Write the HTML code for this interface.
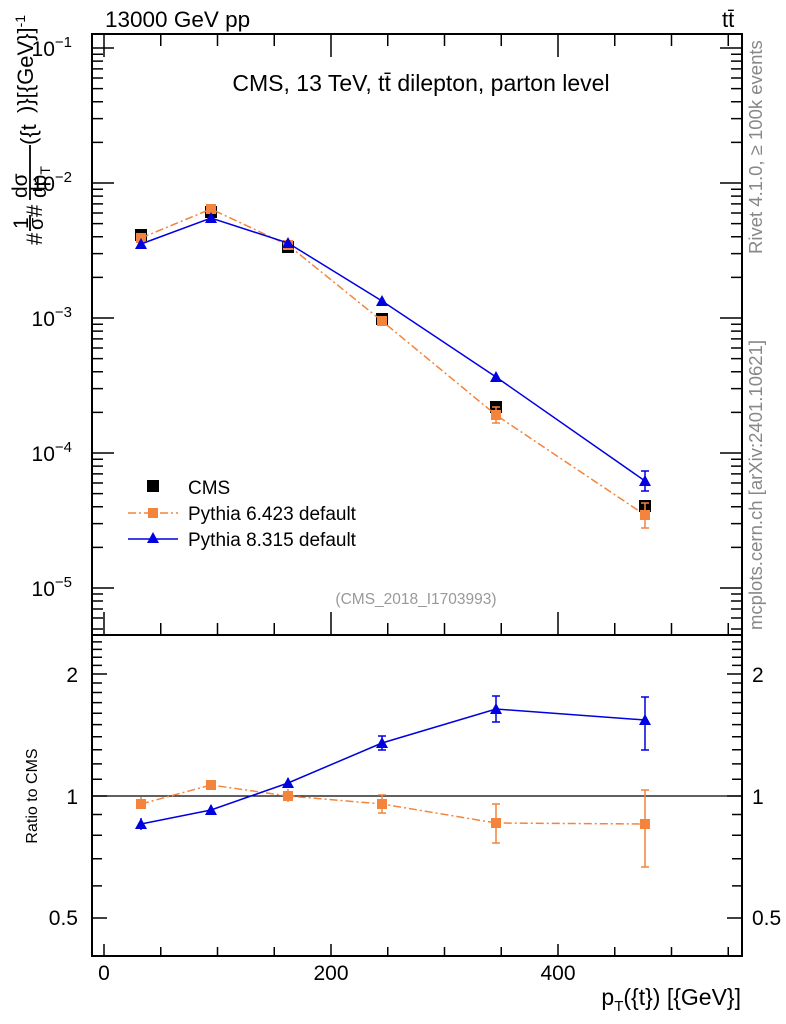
<!DOCTYPE html>
<html><head><meta charset="utf-8"><style>
html,body{margin:0;padding:0;background:#fff;}
svg{display:block;font-family:"Liberation Sans",Arial,sans-serif;}
</style></head><body>
<svg width="786" height="1024" viewBox="0 0 786 1024" xmlns="http://www.w3.org/2000/svg">
<rect width="786" height="1024" fill="#fff"/>
<g fill="none" stroke="#000" stroke-width="2">
<rect x="92" y="34" width="650" height="601"/>
<rect x="92" y="635" width="650" height="321"/>
</g>
<g stroke="#000" stroke-width="1.5">
<path d="M92 48h22M92 183h22M92 318h22M92 453h22M92 588h22 M742 48h-22M742 183h-22M742 318h-22M742 453h-22M742 588h-22"/>
<path d="M92 142.4h11M92 118.6h11M92 101.7h11M92 88.6h11M92 78h11M92 68.9h11M92 61.1h11M92 54.2h11
M92 277.4h11M92 253.6h11M92 236.7h11M92 223.6h11M92 213h11M92 203.9h11M92 196.1h11M92 189.2h11
M92 412.4h11M92 388.6h11M92 371.7h11M92 358.6h11M92 348h11M92 338.9h11M92 331.1h11M92 324.2h11
M92 547.4h11M92 523.6h11M92 506.7h11M92 493.6h11M92 483h11M92 473.9h11M92 466.1h11M92 459.2h11
M92 629h11M92 618h11M92 609h11M92 601h11M92 594h11
M742 142.4h-11M742 118.6h-11M742 101.7h-11M742 88.6h-11M742 78h-11M742 68.9h-11M742 61.1h-11M742 54.2h-11
M742 277.4h-11M742 253.6h-11M742 236.7h-11M742 223.6h-11M742 213h-11M742 203.9h-11M742 196.1h-11M742 189.2h-11
M742 412.4h-11M742 388.6h-11M742 371.7h-11M742 358.6h-11M742 348h-11M742 338.9h-11M742 331.1h-11M742 324.2h-11
M742 547.4h-11M742 523.6h-11M742 506.7h-11M742 493.6h-11M742 483h-11M742 473.9h-11M742 466.1h-11M742 459.2h-11
M742 629h-11M742 618h-11M742 609h-11M742 601h-11M742 594h-11"/>
<path d="M104 34v23M331 34v23M558 34v23 M104 635v-23M331 635v-23M558 635v-23
M160.75 34v12M217.5 34v12M274.25 34v12M387.75 34v12M444.5 34v12M501.25 34v12M614.75 34v12M671.5 34v12M728.25 34v12
M160.75 635v-12M217.5 635v-12M274.25 635v-12M387.75 635v-12M444.5 635v-12M501.25 635v-12M614.75 635v-12M671.5 635v-12M728.25 635v-12"/>
<path d="M92 674h15M92 796h15M92 918h15 M742 674h-15M742 796h-15M742 918h-15"/>
<path d="M92 665.4h10M92 657.2h10M92 649.4h10M92 641.9h10M92 779.2h10M92 763.9h10M92 749.8h10M92 736.8h10M92 724.6h10M92 713.3h10M92 702.6h10M92 692.5h10M92 683h10M92 814.5h10M92 835.3h10M92 858.8h10M92 885.9h10
M742 665.4h-10M742 657.2h-10M742 649.4h-10M742 641.9h-10M742 779.2h-10M742 763.9h-10M742 749.8h-10M742 736.8h-10M742 724.6h-10M742 713.3h-10M742 702.6h-10M742 692.5h-10M742 683h-10M742 814.5h-10M742 835.3h-10M742 858.8h-10M742 885.9h-10"/>
<path d="M104 956v-12M331 956v-12M558 956v-12 M160.75 956v-9M217.5 956v-9M274.25 956v-9M387.75 956v-9M444.5 956v-9M501.25 956v-9M614.75 956v-9M671.5 956v-9M728.25 956v-9"/>
</g>
<line x1="92" y1="796" x2="742" y2="796" stroke="#000" stroke-width="1.2"/>
<text x="105" y="27" font-size="22.5">13000 GeV pp</text>
<text x="722" y="27" font-size="22">tt̄</text>
<text x="421" y="91" font-size="23" text-anchor="middle">CMS, 13 TeV, tt̄ dilepton, parton level</text>
<g font-size="21" text-anchor="end">
<text x="72" y="56">10<tspan font-size="15" dy="-9">−1</tspan></text>
<text x="72" y="191">10<tspan font-size="15" dy="-9">−2</tspan></text>
<text x="72" y="326">10<tspan font-size="15" dy="-9">−3</tspan></text>
<text x="72" y="461">10<tspan font-size="15" dy="-9">−4</tspan></text>
<text x="72" y="596">10<tspan font-size="15" dy="-9">−5</tspan></text>
<text x="78" y="682">2</text>
<text x="78" y="804">1</text>
<text x="78" y="925">0.5</text>
</g>
<g font-size="21">
<text x="752" y="682">2</text>
<text x="752" y="804">1</text>
<text x="752" y="925">0.5</text>
<text x="104" y="980" text-anchor="middle">0</text>
<text x="331" y="980" text-anchor="middle">200</text>
<text x="558" y="980" text-anchor="middle">400</text>
</g>
<text x="741" y="1005" font-size="23" text-anchor="end">p<tspan font-size="15" dy="6">T</tspan><tspan dy="-6">({t}) [{GeV}]</tspan></text>
<text x="416" y="604" font-size="15.5" fill="#999" text-anchor="middle">(CMS_2018_I1703993)</text>
<text transform="translate(762,254) rotate(-90)" font-size="18.5" fill="#888">Rivet 4.1.0, ≥ 100k events</text>
<text transform="translate(762,630) rotate(-90)" font-size="18.5" fill="#888">mcplots.cern.ch [arXiv:2401.10621]</text>
<text transform="translate(37,796) rotate(-90)" font-size="16" text-anchor="middle">Ratio to CMS</text>
<g transform="translate(42,245) rotate(-90)" font-size="22">
<text x="0" y="0">#</text>
<text x="16" y="-14" font-size="21">1</text>
<line x1="14" y1="-12" x2="30" y2="-12" stroke="#000" stroke-width="1.8"/>
<text x="15" y="1" font-size="20">σ</text>
<text x="28" y="0">#</text>
<text x="47" y="-15" font-size="21">dσ</text>
<line x1="45" y1="-12" x2="100" y2="-12" stroke="#000" stroke-width="1.8"/>
<text x="47" y="4" font-size="21">dp<tspan font-size="14" dy="4">T</tspan></text>
<text x="100" y="-6">({t</text>
<text x="132" y="-9">)}[{GeV}]<tspan font-size="14" dy="-8">-1</tspan></text>
</g>
<rect x="147" y="480" width="12" height="12" fill="#000"/>
<text x="188" y="494" font-size="19">CMS</text>
<line x1="128" y1="513" x2="178" y2="513" stroke="#f4843c" stroke-width="1.5" stroke-dasharray="8,3,2,3"/>
<rect x="148" y="508" width="10" height="10" fill="#f4843c"/>
<text x="188" y="520" font-size="19">Pythia 6.423 default</text>
<line x1="128" y1="539" x2="178" y2="539" stroke="#0000e0" stroke-width="1.5"/>
<path d="M153 532l6 11h-12z" fill="#0000e0"/>
<text x="188" y="546" font-size="19">Pythia 8.315 default</text>
<g fill="#000">
<rect x="135" y="229" width="12" height="12"/><rect x="205" y="206" width="12" height="12"/><rect x="282" y="241" width="12" height="12"/>
<rect x="376" y="313" width="12" height="12"/><rect x="490" y="401" width="12" height="12"/><rect x="639" y="500" width="12" height="12"/>
</g>
<polyline points="141,238 211,209 288,245 382,321 496,415 645,515" fill="none" stroke="#f4843c" stroke-width="1.5" stroke-dasharray="8,3,2,3"/>
<g stroke="#f4843c" stroke-width="1.5"><path d="M496 407v16M492 407h8M492 423h8M645 503v25M641 503h8M641 528h8"/></g>
<g fill="#f4843c">
<rect x="136" y="233" width="10" height="10"/><rect x="206" y="204" width="10" height="10"/><rect x="283" y="240" width="10" height="10"/>
<rect x="377" y="316" width="10" height="10"/><rect x="491" y="410" width="10" height="10"/><rect x="640" y="510" width="10" height="10"/>
</g>
<polyline points="141,244 211,218 288,243 382,301 496,377 645,481" fill="none" stroke="#0000e0" stroke-width="1.5"/>
<g stroke="#0000e0" stroke-width="1.5"><path d="M645 471v20M641 471h8M641 491h8"/></g>
<g fill="#0000e0">
<path d="M141 238l6 11h-12z"/><path d="M211 212l6 11h-12z"/><path d="M288 237l6 11h-12z"/><path d="M382 295l6 11h-12z"/><path d="M496 371l6 11h-12z"/><path d="M645 475l6 11h-12z"/>
</g>
<polyline points="141,804 211,785 288,796 382,804 496,823 645,824" fill="none" stroke="#f4843c" stroke-width="1.5" stroke-dasharray="8,3,2,3"/>
<g stroke="#f4843c" stroke-width="1.5"><path d="M141 797v12M211 780v10M288 789v13M382 795v18M378 795h8M378 813h8M496 804v39M492 804h8M492 843h8M645 790v77M641 790h8M641 867h8"/></g>
<g fill="#f4843c">
<rect x="136" y="799" width="10" height="10"/><rect x="206" y="780" width="10" height="10"/><rect x="283" y="791" width="10" height="10"/>
<rect x="377" y="799" width="10" height="10"/><rect x="491" y="818" width="10" height="10"/><rect x="640" y="819" width="10" height="10"/>
</g>
<polyline points="141,824 211,810 288,783 382,743 496,709 645,720" fill="none" stroke="#0000e0" stroke-width="1.5"/>
<g stroke="#0000e0" stroke-width="1.5"><path d="M141 818v12M211 805v10M288 778v10M382 736v14M378 736h8M378 750h8M496 696v26M492 696h8M492 722h8M645 697v53M641 697h8M641 750h8"/></g>
<g fill="#0000e0">
<path d="M141 818l6 11h-12z"/><path d="M211 804l6 11h-12z"/><path d="M288 777l6 11h-12z"/><path d="M382 737l6 11h-12z"/><path d="M496 703l6 11h-12z"/><path d="M645 714l6 11h-12z"/>
</g>
</svg>
</body></html>
